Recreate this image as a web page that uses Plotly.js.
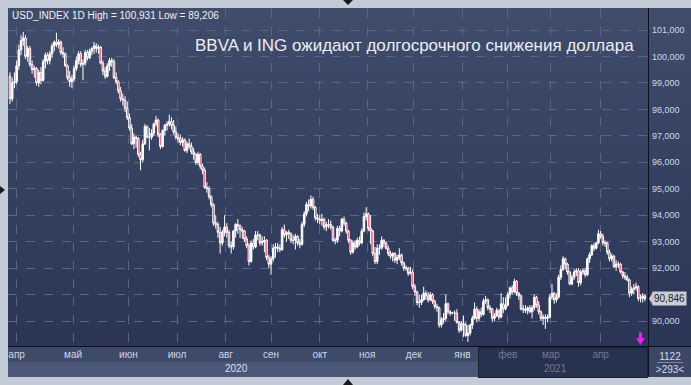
<!DOCTYPE html>
<html>
<head>
<meta charset="utf-8">
<script src="https://cdn.plot.ly/plotly-3.0.1.min.js"></script>
<style>
  html, body { margin:0; padding:0; background:#c3cbd7; }
  #wrap { position:relative; width:691px; height:385px; overflow:hidden; background:#c3cbd7; }
  .bg { position:absolute; }
  #plotbg { left:8px; top:8px; width:640px; height:338px; background:linear-gradient(to bottom,#3f4c6a,#2b3656); }
  #axisbg { left:648px; top:8px; width:43px; height:338px; background:linear-gradient(to bottom,#3f4c6a,#2b3656); border-left:1px solid #0c1020; }
  #hline { left:8px; top:346px; width:683px; height:1px; background:#0c1020; }
  #monthrow { left:8px; top:347px; width:640px; height:15px; background:#3d4a68; }
  #yearrow { left:8px; top:362px; width:640px; height:15px; background:#4b5877; }
  #future { left:478px; top:347px; width:168px; height:29px; background:#27324f; border:1px solid #1a2238; }
  #cornerbox { left:649px; top:347px; width:42px; height:30px; background:#3a4765; }
  #vline2 { left:648px; top:347px; width:1px; height:30px; background:#0c1020; }
  .tri { position:absolute; width:0; height:0; }
  #tritop { left:343px; top:0px; border-left:5px solid transparent; border-right:5px solid transparent; border-top:5px solid #1a1a1a; }
  #tribot { left:343px; top:379px; border-left:5px solid transparent; border-right:5px solid transparent; border-bottom:6px solid #1a1a1a; }
  #trileft { left:0px; top:186px; border-top:4px solid transparent; border-bottom:4px solid transparent; border-left:5px solid #1a1a1a; }
  #chart { position:absolute; left:0; top:0; width:691px; height:385px; }
  .cornertxt { position:absolute; left:649px; width:42px; text-align:center; font:10px 'Liberation Sans', Arial, sans-serif; color:#d3dbea; line-height:12px; }
  #c1 { top:351px; }
  #c2 { top:364px; }
  #csep { position:absolute; left:657px; top:362px; width:26px; height:1px; background:#7d88a0; }
</style>
</head>
<body>
<div id="wrap">
  <div class="bg" id="plotbg"></div>
  <div class="bg" id="axisbg"></div>
  <div class="bg" id="monthrow"></div>
  <div class="bg" id="yearrow"></div>
  <div class="bg" id="future"></div>
  <div class="bg" id="cornerbox"></div>
  <div class="bg" id="hline"></div>
  <div class="bg" id="vline2"></div>
  <div class="tri" id="tritop"></div>
  <div class="tri" id="tribot"></div>
  <div class="tri" id="trileft"></div>
  <div class="cornertxt" id="c1"></div>
  <div id="csep"></div>
  <div class="cornertxt" id="c2"></div>
  <div id="chart"></div>
</div>
<script>
// ---- Data: USD_INDEX daily bars (Mar 2020 – Apr 2021) ----
const openVals = [
 99.25,98.40,99.00,
 // Apr 2020
 99.05,99.65,100.25,100.60,100.70,100.00,100.30,99.70,99.50,99.55,99.00,99.40,99.10,99.80,100.05,99.85,100.10,100.40,100.55,100.45,100.55,100.15,100.10,99.65,99.20,
 // May
 99.05,99.15,99.55,99.85,100.10,99.70,99.75,100.15,99.95,100.20,100.30,100.40,100.30,100.35,99.75,99.45,99.25,99.65,99.85,99.80,99.20,99.05,98.70,98.40,98.35,
 // Jun
 98.05,97.70,97.30,96.70,96.95,96.90,96.30,96.10,96.70,97.35,96.95,96.95,97.10,97.45,97.60,97.05,96.60,97.20,97.40,97.45,97.55,97.40,
 // Jul
 97.15,96.95,96.90,96.75,96.85,96.45,96.70,96.60,96.40,96.30,96.00,96.30,95.85,95.70,95.05,95.00,94.70,94.40,93.70,93.65,93.35,92.95,
 // Aug
 93.35,93.55,93.35,92.85,92.80,93.40,93.65,93.60,93.45,93.40,93.10,92.85,92.25,92.95,92.80,93.25,93.25,92.95,93.00,93.05,92.40,
 // Sep
 92.15,92.35,92.75,92.80,92.75,92.70,93.45,93.25,93.35,93.30,93.05,93.05,93.20,92.95,92.90,93.65,94.05,94.40,94.35,94.60,94.30,93.90,
 // Oct
 93.85,93.80,93.85,93.55,93.65,93.65,93.55,93.05,93.05,93.50,93.40,93.85,93.70,93.40,93.05,92.60,92.95,92.80,93.05,92.95,93.40,
 // Nov
 93.95,94.05,93.50,93.40,92.55,92.25,92.75,92.75,93.05,92.95,92.75,92.55,92.45,92.55,92.30,92.40,92.50,92.20,92.00,92.00,91.80,
 // Dec
 91.85,91.30,91.10,90.70,90.70,90.80,91.05,90.95,90.80,91.00,90.75,90.55,90.50,89.85,90.05,90.10,90.65,90.35,90.30,90.30,90.30,89.95,89.65,
 // Jan 2021
 89.90,89.85,89.45,89.55,89.85,90.10,90.45,90.10,90.35,90.25,90.75,90.80,90.50,90.45,90.10,90.20,90.40,90.15,90.65,90.45,
 // Feb
 90.60,91.00,91.25,91.10,91.50,91.05,90.95,90.45,90.45,90.40,90.50,90.35,90.50,90.90,90.60,90.35,90.10,90.15,90.10,90.15,
 // Mar
 90.90,91.05,90.80,90.90,91.65,91.95,92.35,92.15,91.85,91.40,91.65,91.85,91.90,91.45,91.85,91.90,91.75,92.35,92.50,92.85,92.75,92.95,93.30,
 // Apr
 93.20,92.95,92.95,92.60,92.35,92.45,92.05,92.15,92.15,91.85,91.70,91.65,91.55,91.05,91.20,91.25,91.30,90.85,90.85,90.95
];
const highVals = [
 99.40,99.20,99.40,
 99.85,100.45,100.80,100.931,100.80,100.40,100.40,99.85,99.65,99.60,99.50,99.60,99.90,100.15,100.15,100.20,100.50,100.60,100.90,100.65,100.60,100.35,100.15,99.70,99.45,
 99.30,99.65,100.00,100.20,100.20,99.90,100.25,100.25,100.30,100.35,100.55,100.50,100.45,100.40,99.85,99.60,99.75,99.95,99.95,99.90,99.40,99.10,98.85,98.60,98.50,
 98.30,97.85,97.45,97.10,97.00,96.95,96.40,96.85,97.45,97.40,97.30,97.25,97.50,97.75,97.65,97.10,97.25,97.45,97.55,97.80,97.70,97.60,
 97.35,97.10,97.05,96.95,96.90,96.80,96.90,96.75,96.55,96.35,96.40,96.35,95.95,95.80,95.25,95.10,94.75,94.45,94.00,93.75,93.55,93.45,
 94.00,93.70,93.45,93.00,93.45,93.70,93.85,93.65,93.55,93.45,93.20,92.95,93.05,93.10,93.40,93.40,93.30,93.20,93.20,93.10,92.50,
 92.45,92.90,92.95,92.95,92.90,93.55,93.65,93.40,93.45,93.35,93.25,93.30,93.25,93.10,93.75,94.15,94.50,94.60,94.75,94.70,94.35,94.05,
 94.00,94.05,93.90,93.75,93.85,93.80,93.60,93.15,93.60,93.60,93.90,93.95,93.75,93.45,93.10,93.05,93.05,93.15,93.20,93.50,94.10,
 94.30,94.10,94.00,93.45,92.80,92.90,92.90,93.20,93.10,93.00,92.85,92.65,92.60,92.60,92.50,92.75,92.55,92.25,92.10,92.05,92.05,
 91.95,91.40,91.15,91.00,91.00,91.30,91.15,91.10,91.10,91.05,90.80,90.65,90.55,90.15,90.30,91.00,90.70,90.40,90.35,90.40,90.45,90.00,90.00,
 90.20,89.95,89.85,89.90,90.20,90.70,90.55,90.45,90.50,90.85,90.95,90.85,90.60,90.50,90.30,90.50,90.45,91.05,90.90,90.90,
 91.10,91.30,91.35,91.60,91.55,91.10,91.00,90.60,90.60,90.55,90.60,90.60,91.00,90.95,90.75,90.40,90.25,90.25,90.25,91.00,
 91.40,91.10,91.05,91.75,92.10,92.45,92.40,92.20,91.90,91.75,91.95,92.00,92.00,91.95,92.00,92.00,92.40,92.60,92.90,92.95,93.00,93.45,93.40,
 93.30,93.05,93.00,92.70,92.55,92.50,92.30,92.25,92.20,91.90,91.85,91.75,91.60,91.30,91.40,91.45,91.35,91.00,91.05,91.00
];
const lowVals = [
 98.20,98.30,98.80,
 98.95,99.50,100.05,100.40,99.90,99.80,99.60,99.35,99.20,98.90,98.85,98.95,99.05,99.55,99.70,99.70,99.95,100.20,100.35,100.30,100.05,99.95,99.60,99.10,98.85,
 98.80,99.05,99.45,99.70,99.60,99.10,99.65,99.85,99.90,100.05,100.10,100.15,100.10,99.70,99.30,99.15,99.20,99.45,99.60,99.15,98.95,98.60,98.30,98.15,97.90,
 97.60,97.20,96.65,96.50,96.55,96.20,95.70,96.00,96.65,96.90,96.45,96.85,97.00,97.35,96.95,96.50,96.55,97.00,97.20,97.35,97.25,97.05,
 96.85,96.75,96.65,96.60,96.40,96.35,96.50,96.30,96.10,95.90,95.90,95.75,95.55,95.00,94.85,94.60,94.30,93.60,93.50,93.15,92.55,92.85,
 93.20,93.15,92.75,92.55,92.70,93.15,93.30,93.15,93.10,93.00,92.75,92.10,92.20,92.70,92.75,93.05,92.85,92.85,92.60,92.30,92.00,
 91.75,92.25,92.40,92.60,92.60,92.65,93.15,93.00,93.10,92.95,92.90,92.70,92.85,92.75,92.85,93.55,93.95,94.15,94.25,94.20,93.80,93.70,
 93.65,93.60,93.45,93.40,93.50,93.45,93.00,92.90,92.95,93.20,93.35,93.60,93.30,92.95,92.50,92.55,92.70,92.75,92.85,92.90,93.35,
 93.80,93.40,92.90,92.45,92.15,92.15,92.50,92.70,92.80,92.70,92.45,92.35,92.25,92.20,92.15,92.30,92.10,91.90,91.90,91.70,91.75,
 91.20,90.95,90.60,90.50,90.60,90.75,90.80,90.70,90.75,90.65,90.45,90.35,89.75,89.75,89.90,90.00,90.25,90.20,90.25,90.00,89.90,89.55,89.60,
 89.40,89.40,89.206,89.45,89.70,90.05,89.95,90.00,90.15,90.20,90.65,90.40,90.30,89.95,90.00,90.15,90.05,90.10,90.30,90.40,
 90.55,90.85,91.00,91.05,90.95,90.80,90.40,90.30,90.30,90.25,90.30,90.10,90.40,90.50,90.25,90.00,89.85,89.70,89.95,90.10,
 90.80,90.65,90.70,90.85,91.55,91.90,91.95,91.75,91.35,91.35,91.55,91.70,91.30,91.35,91.75,91.65,91.70,92.20,92.45,92.65,92.70,92.90,93.10,
 92.85,92.80,92.50,92.25,92.25,92.00,91.90,92.00,91.80,91.60,91.55,91.50,90.90,90.95,91.00,91.15,90.75,90.70,90.70,90.75
];
const closeVals = [
 98.40,99.00,99.05,
 99.65,100.25,100.60,100.70,100.00,100.30,99.70,99.50,99.55,99.00,99.40,99.10,99.80,100.05,99.85,100.10,100.40,100.55,100.45,100.55,100.15,100.10,99.65,99.20,99.05,
 99.15,99.55,99.85,100.10,99.70,99.75,100.15,99.95,100.20,100.30,100.40,100.30,100.35,99.75,99.45,99.25,99.65,99.85,99.80,99.20,99.05,98.70,98.40,98.35,98.05,
 97.70,97.30,96.70,96.95,96.90,96.30,96.10,96.70,97.35,96.95,96.95,97.10,97.45,97.60,97.05,96.60,97.20,97.40,97.45,97.55,97.40,97.15,
 96.95,96.90,96.75,96.85,96.45,96.70,96.60,96.40,96.30,96.00,96.30,95.85,95.70,95.05,95.00,94.70,94.40,93.70,93.65,93.35,92.95,93.35,
 93.55,93.35,92.85,92.80,93.40,93.65,93.60,93.45,93.40,93.10,92.85,92.25,92.95,92.80,93.25,93.25,92.95,93.00,93.05,92.40,92.15,
 92.35,92.75,92.80,92.75,92.70,93.45,93.25,93.35,93.30,93.05,93.05,93.20,92.95,92.90,93.65,94.05,94.40,94.35,94.60,94.30,93.90,93.85,
 93.80,93.85,93.55,93.65,93.65,93.55,93.05,93.05,93.50,93.40,93.85,93.70,93.40,93.05,92.60,92.95,92.80,93.05,92.95,93.40,93.95,
 94.05,93.50,93.40,92.55,92.25,92.75,92.75,93.05,92.95,92.75,92.55,92.45,92.55,92.30,92.40,92.50,92.20,92.00,92.00,91.80,91.85,
 91.30,91.10,90.70,90.70,90.80,91.05,90.95,90.80,91.00,90.75,90.55,90.50,89.85,90.05,90.10,90.65,90.35,90.30,90.30,90.30,89.95,89.65,89.90,
 89.85,89.45,89.55,89.85,90.10,90.45,90.10,90.35,90.25,90.75,90.80,90.50,90.45,90.10,90.20,90.40,90.15,90.65,90.45,90.60,
 91.00,91.25,91.10,91.50,91.05,90.95,90.45,90.45,90.40,90.50,90.35,90.50,90.90,90.60,90.35,90.10,90.15,90.10,90.15,90.90,
 91.05,90.80,90.90,91.65,91.95,92.35,92.15,91.85,91.40,91.65,91.85,91.90,91.45,91.85,91.90,91.75,92.35,92.50,92.85,92.75,92.95,93.30,93.20,
 92.95,92.95,92.60,92.35,92.45,92.05,92.15,92.15,91.85,91.70,91.65,91.55,91.05,91.20,91.25,91.30,90.85,90.85,90.95,90.846
];
// bar index where each month label sits
const monthTicks = [3, 28.5, 53.5, 75.5, 97.5, 118, 140, 161.5, 182.5, 204.5, 225, 244.5, 267];
const monthLabels = ['апр','май','июн','июл','авг','сен','окт','ноя','дек','янв','фев','мар','апр'];
const monthIsFuture = [false,false,false,false,false,false,false,false,false,false,true,true,true];
const yearLabels = ['2020', '2021'];
const yearLabelPos = [102.5, 246.5];
const symbolName = 'USD_INDEX';
const timeframe = '1D';
const rangeHigh = '100,931';
const rangeLow = '89,206';
const lastPrice = 90.846;
const lastPriceLabel = '90,846';
const headline = 'BBVA и ING ожидают долгосрочного снижения доллара';
const barsInfo = ['1122', '>293<'];
const signalBar = 285;

document.getElementById('c1').textContent = barsInfo[0];
document.getElementById('c2').textContent = barsInfo[1];

const xIdx = closeVals.map((_, i) => i);

const trace = {
  type: 'candlestick',
  x: xIdx,
  open: openVals, high: highVals, low: lowVals, close: closeVals,
  increasing: { line: { color: '#ffffff', width: 1 }, fillcolor: '#ffffff' },
  decreasing: { line: { color: '#ffffff', width: 1 }, fillcolor: '#e8103c' },
  whiskerwidth: 0,
  hoverinfo: 'skip',
  showlegend: false
};

const dimColor = '#6e7b98';
const tickText = monthLabels.map((m, i) => monthIsFuture[i] ? '<span style="color:' + dimColor + '">' + m + '</span>' : m);

const FONT = 'Liberation Sans, Arial, sans-serif';
const gridColor = '#5a6684';

// signal arrow outline (in bar units horizontally, paper units vertically)
const aw = 2.03, sw = 0.68;
const sigPath = 'M' + signalBar + ',0.003 L' + (signalBar - aw) + ',0.024 L' + (signalBar - sw) + ',0.024 L' +
  (signalBar - sw) + ',0.040 L' + (signalBar + sw) + ',0.040 L' + (signalBar + sw) + ',0.024 L' + (signalBar + aw) + ',0.024 Z';

const layout = {
  width: 691, height: 385,
  margin: { l: 8, r: 43, t: 9, b: 39, pad: 0 },
  paper_bgcolor: 'rgba(0,0,0,0)',
  plot_bgcolor: 'rgba(0,0,0,0)',
  separators: ', ',
  boxgap: 0,
  font: { family: FONT, color: '#cdd7ec' },
  showlegend: false,
  xaxis: {
    type: 'linear',
    range: [-0.9, 288.4],
    rangeslider: { visible: false },
    tickmode: 'array', tickvals: monthTicks, ticktext: tickText,
    showgrid: true, gridcolor: gridColor, griddash: 'dash', gridwidth: 1,
    zeroline: false, showline: false, ticks: '',
    tickfont: { size: 10, color: '#cdd7ec', family: FONT },
    ticklabelstandoff: 1,
    fixedrange: true
  },
  yaxis: {
    side: 'right',
    range: [89.055, 101.796],
    tickmode: 'linear', tick0: 90, dtick: 1,
    tickformat: '.3f',
    showgrid: true, gridcolor: gridColor, griddash: 'dash', gridwidth: 1,
    zeroline: false, showline: false, ticks: '',
    tickfont: { size: 9, color: '#cdd7ec', family: FONT },
    ticklabelstandoff: 3,
    fixedrange: true
  },
  annotations: [
    { xref: 'paper', yref: 'paper', x: 0.003, y: 0.982, xanchor: 'left', yanchor: 'middle',
      text: symbolName + ' ' + timeframe + ' High = ' + rangeHigh + ' Low = ' + rangeLow,
      showarrow: false, font: { size: 10, color: '#f2f2f2', family: FONT } },
    { xref: 'paper', yref: 'paper', x: 0.981, y: 0.893, xanchor: 'right', yanchor: 'middle',
      text: headline, showarrow: false, font: { size: 17, color: '#eceef3', family: FONT } },
    { xref: 'paper', yref: 'y', x: 1, y: lastPrice, xanchor: 'left', yanchor: 'middle', xshift: 4,
      text: lastPriceLabel, showarrow: false, bgcolor: '#c9cdd6', borderpad: 1,
      font: { size: 10, color: '#1b1f2a', family: FONT } },
    { xref: 'x', yref: 'paper', x: yearLabelPos[0], y: -0.068, xanchor: 'center', yanchor: 'middle', text: yearLabels[0],
      showarrow: false, font: { size: 10, color: '#dbe2f0', family: FONT } },
    { xref: 'x', yref: 'paper', x: yearLabelPos[1], y: -0.068, xanchor: 'center', yanchor: 'middle', text: yearLabels[1],
      showarrow: false, font: { size: 10, color: dimColor, family: FONT } }
  ],
  shapes: [
    { type: 'path', xref: 'paper', yref: 'y',
      path: 'M1.0016,' + lastPrice + ' L1.0075,' + (lastPrice + 0.25) + ' L1.0075,' + (lastPrice - 0.25) + ' Z',
      fillcolor: '#c9cdd6', line: { width: 0 } },
    { type: 'path', xref: 'x', yref: 'paper', path: sigPath,
      fillcolor: '#ff14ff', line: { width: 0 } }
  ]
};

Plotly.newPlot('chart', [trace], layout, { displayModeBar: false, staticPlot: true });
</script>
</body>
</html>
